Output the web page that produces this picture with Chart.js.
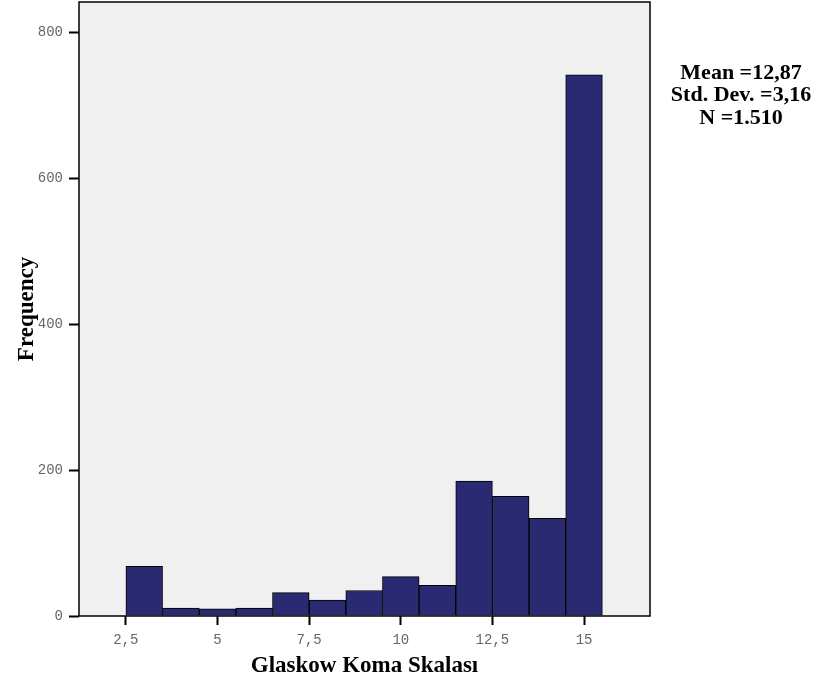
<!DOCTYPE html>
<html>
<head>
<meta charset="utf-8">
<title>Glaskow Koma Skalası</title>
<script src="https://cdn.jsdelivr.net/npm/chart.js@4/dist/chart.umd.min.js"></script>
<style>
  html, body { margin: 0; padding: 0; background: #ffffff; }
  #wrap { width: 822px; height: 685px; position: relative; }
</style>
</head>
<body>
<div id="wrap"><canvas id="hist" width="822" height="685"></canvas></div>
<script>
// Histogram bins (bin centre = score, width 1)
const binCenters = [3, 4, 5, 6, 7, 8, 9, 10, 11, 12, 13, 14, 15];
const frequencies = [68, 11, 10, 11, 32, 22, 35, 54, 42, 185, 164, 134, 742];

// Axis ticks
const xTickValues = [2.5, 5, 7.5, 10, 12.5, 15];
const yTickValues = [0, 200, 400, 600, 800];

// Summary statistics shown beside the plot
const statsLines = ['Mean =12,87', 'Std. Dev. =3,16', 'N =1.510'];

const xTitle = 'Glaskow Koma Skalası';
const yTitle = 'Frequency';

const serifBold = { family: '"Liberation Serif", "Times New Roman", serif', size: 23, weight: 'bold' };
const monoTicks = { family: '"Liberation Mono", "Courier New", monospace', size: 14 };

// Grey plot panel with a black frame, and the statistics block
const panelPlugin = {
  id: 'panel',
  beforeDatasetsDraw(chart) {
    const { ctx, chartArea: a } = chart;
    ctx.save();
    ctx.fillStyle = '#f0f0f0';
    ctx.fillRect(a.left, a.top, a.right - a.left, a.bottom - a.top);
    ctx.restore();
  },
  afterDatasetsDraw(chart) {
    const { ctx, chartArea: a } = chart;
    ctx.save();
    ctx.strokeStyle = '#000000';
    ctx.lineWidth = 1.5;
    ctx.strokeRect(a.left, a.top, a.right - a.left, a.bottom - a.top);
    ctx.fillStyle = '#000000';
    ctx.font = 'bold 22px "Liberation Serif", "Times New Roman", serif';
    ctx.textAlign = 'center';
    ctx.textBaseline = 'middle';
    const cx = (a.right + chart.width) / 2 + 5;
    statsLines.forEach((line, i) => ctx.fillText(line, cx, 73 + i * 22.5));
    ctx.restore();
  }
};

new Chart(document.getElementById('hist'), {
  type: 'bar',
  data: {
    datasets: [{
      data: binCenters.map((c, i) => ({ x: c, y: frequencies[i] })),
      backgroundColor: '#2a2a72',
      borderColor: '#000000',
      borderWidth: 1,
      barPercentage: 1,
      categoryPercentage: 1
    }]
  },
  options: {
    responsive: false,
    animation: false,
    events: [],
    layout: { padding: { left: 0, top: 2, right: 172, bottom: 0 } },
    plugins: { legend: { display: false }, tooltip: { enabled: false } },
    scales: {
      x: {
        type: 'linear',
        offset: false,
        min: 1.22,
        max: 16.8,
        afterBuildTicks(scale) { scale.ticks = xTickValues.map(v => ({ value: v })); },
        afterFit(scale) {
          scale.height = 69;
          scale.paddingLeft = 0;
          scale.paddingRight = 0;
        },
        ticks: {
          color: '#666666',
          font: monoTicks,
          padding: 7,
          maxRotation: 0,
          autoSkip: false,
          callback: v => String(v).replace('.', ',')
        },
        grid: { offset: false, drawOnChartArea: false, drawTicks: true, tickLength: 9, tickColor: '#000000', tickWidth: 2 },
        border: { display: false },
        title: { display: true, text: xTitle, color: '#000000', font: serifBold, padding: { top: 0, bottom: 5 } }
      },
      y: {
        type: 'linear',
        min: 0,
        max: 842,
        afterBuildTicks(scale) { scale.ticks = yTickValues.map(v => ({ value: v })); },
        afterFit(scale) {
          scale.width = 79;
          scale.paddingTop = 0;
          scale.paddingBottom = 0;
        },
        ticks: { color: '#666666', font: monoTicks, padding: 6 },
        grid: { drawOnChartArea: false, drawTicks: true, tickLength: 10, tickColor: '#000000', tickWidth: 2 },
        border: { display: false },
        title: { display: true, text: yTitle, color: '#000000', font: serifBold, padding: { top: 13, bottom: 0 } }
      }
    }
  },
  plugins: [panelPlugin]
});
</script>
</body>
</html>
